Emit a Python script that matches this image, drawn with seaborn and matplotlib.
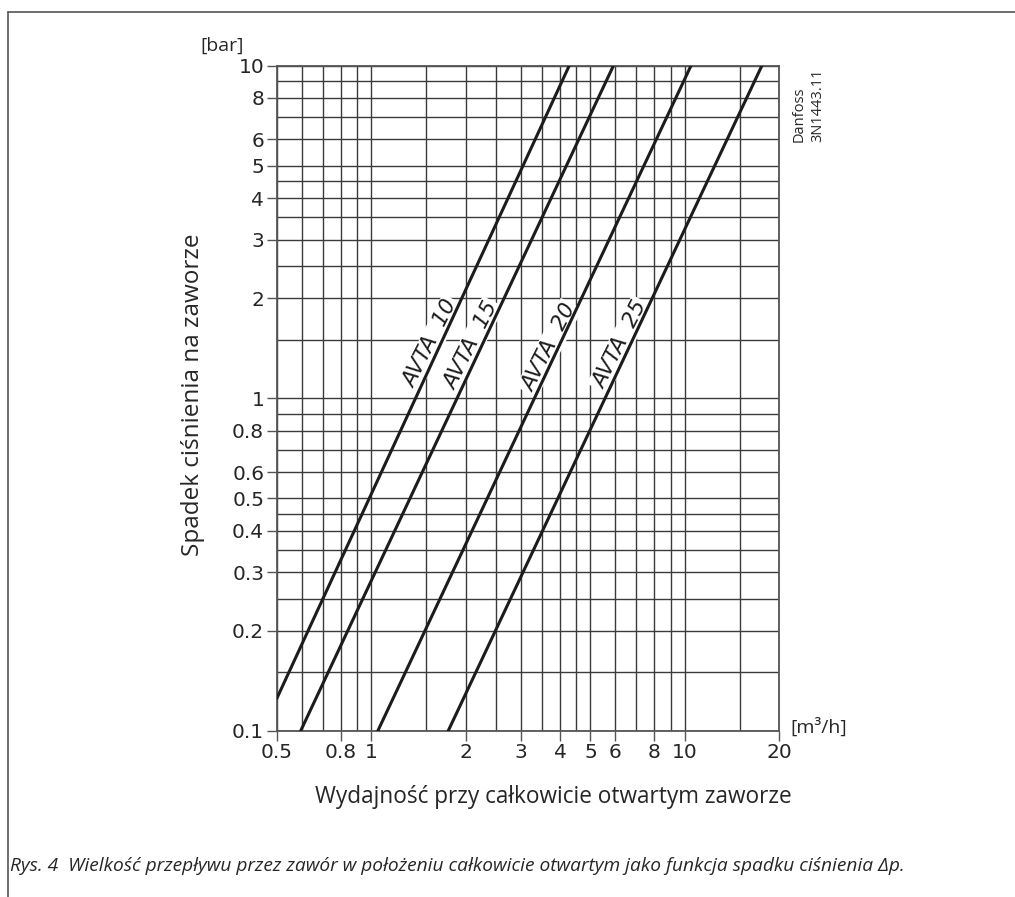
import matplotlib
matplotlib.use('Agg')
import matplotlib.pyplot as plt
from matplotlib.ticker import FixedLocator, NullFormatter
import numpy as np
import pandas as pd
import seaborn as sns

# end points of each valve line
valves = ['AVTA 10', 'AVTA 15', 'AVTA 20', 'AVTA 25']
flow_avta10 = [0.5, 4.28]
dp_avta10 = [0.125, 10.0]
flow_avta15 = [0.596, 5.92]
dp_avta15 = [0.1, 10.0]
flow_avta20 = [1.05, 10.46]
dp_avta20 = [0.1, 10.0]
flow_avta25 = [1.76, 17.6]
dp_avta25 = [0.1, 10.0]

# where the valve names sit (data coords)
label_texts = ['AVTA  10', 'AVTA  15', 'AVTA  20', 'AVTA  25']
label_x = [1.55, 2.08, 3.69, 6.22]
label_y = [1.46, 1.44, 1.42, 1.45]

x_ticks = [0.5, 0.8, 1, 2, 3, 4, 5, 6, 8, 10, 20]
x_tick_labels = ['0.5', '0.8', '1', '2', '3', '4', '5', '6', '8', '10', '20']
y_ticks = [0.1, 0.2, 0.3, 0.4, 0.5, 0.6, 0.8, 1, 2, 3, 4, 5, 6, 8, 10]
y_tick_labels = ['0.1', '0.2', '0.3', '0.4', '0.5', '0.6', '0.8', '1',
                 '2', '3', '4', '5', '6', '8', '10']
grid_x = [0.5, 0.6, 0.7, 0.8, 0.9, 1, 1.5, 2, 2.5, 3, 3.5, 4, 4.5, 5,
          6, 7, 8, 9, 10, 15, 20]
grid_y = [0.1, 0.15, 0.2, 0.25, 0.3, 0.35, 0.4, 0.45, 0.5, 0.6, 0.7, 0.8,
          0.9, 1, 1.5, 2, 2.5, 3, 3.5, 4, 4.5, 5, 6, 7, 8, 9, 10]

caption = ('Rys. 4  Wielkość przepływu przez zawór w położeniu całkowicie '
           'otwartym jako funkcja spadku ciśnienia Δp.')


def main():
    sns.set_style('white')
    plt.rcParams['font.family'] = ['DejaVu Sans']

    df = pd.DataFrame({
        'valve': np.repeat(valves, 2),
        'flow': flow_avta10 + flow_avta15 + flow_avta20 + flow_avta25,
        'dp': dp_avta10 + dp_avta15 + dp_avta20 + dp_avta25,
    })

    fig = plt.figure(figsize=(10.15, 8.97), dpi=100)
    ax = fig.add_axes([0.2726, 0.1851, 0.4952, 0.7417])
    ax.set_xscale('log')
    ax.set_yscale('log')

    sns.lineplot(data=df, x='flow', y='dp', hue='valve',
                 palette=['#1c1c1c'] * 4, lw=2.2, legend=False,
                 ax=ax, zorder=4)

    ax.set_xlim(0.5, 20)
    ax.set_ylim(0.1, 10)

    ax.set_xticks(x_ticks)
    ax.set_xticklabels(x_tick_labels)
    ax.set_yticks(y_ticks)
    ax.set_yticklabels(y_tick_labels)
    ax.xaxis.set_minor_locator(FixedLocator(grid_x))
    ax.yaxis.set_minor_locator(FixedLocator(grid_y))
    ax.xaxis.set_minor_formatter(NullFormatter())
    ax.yaxis.set_minor_formatter(NullFormatter())
    ax.tick_params(which='major', length=7, width=1, color='#555',
                   labelsize=14.5, pad=2, direction='out',
                   bottom=True, left=True)
    ax.tick_params(which='minor', length=0)
    ax.set_axisbelow(True)
    ax.grid(True, which='both', color='#3a3a3a', lw=1.0)
    for sp in ax.spines.values():
        sp.set_color('#555')
        sp.set_linewidth(1.3)

    for txt, lx, ly in zip(label_texts, label_x, label_y):
        ax.text(lx, ly, txt, rotation=63, rotation_mode='anchor',
                ha='center', va='center', fontsize=15.5, style='italic',
                color='#1c1c1c', zorder=3,
                bbox=dict(fc='white', ec='none', pad=1.5))

    ax.set_xlabel('Wydajność przy całkowicie otwartym zaworze',
                  fontsize=16.3, family='Open Sans', va='center')
    ax.xaxis.set_label_coords(0.5497, -0.099)
    ax.set_ylabel('Spadek ciśnienia na zaworze',
                  fontsize=17.5, family='Open Sans', va='center')
    ax.yaxis.set_label_coords(-0.1665, 0.505)

    fig.text(200 / 1015, 1 - 46 / 897, '[bar]', fontsize=14,
             family='Open Sans', ha='left', va='center')
    fig.text(790 / 1015, 1 - 727 / 897, '[m³/h]', fontsize=14,
             family='Open Sans', ha='left', va='center')
    fig.text(799 / 1015, 1 - 142 / 897, 'Danfoss', rotation=90,
             fontsize=10.5, family='Open Sans', ha='center', va='bottom')
    fig.text(818 / 1015, 1 - 142 / 897, '3N1443.11', rotation=90,
             fontsize=10.5, family='Open Sans', ha='center', va='bottom')

    fig.text(10 / 1015, 1 - 866 / 897, caption, fontsize=13.8,
             style='italic', family='Open Sans', ha='left', va='center')

    # frame around the drawing
    fig.add_artist(plt.Line2D([8 / 1015, 8 / 1015], [0, 1 - 12 / 897],
                              transform=fig.transFigure, color='#555', lw=1.2))
    fig.add_artist(plt.Line2D([8 / 1015, 1], [1 - 12 / 897, 1 - 12 / 897],
                              transform=fig.transFigure, color='#555', lw=1.2))

    fig.savefig('out.png', dpi=100)


if __name__ == '__main__':
    main()
